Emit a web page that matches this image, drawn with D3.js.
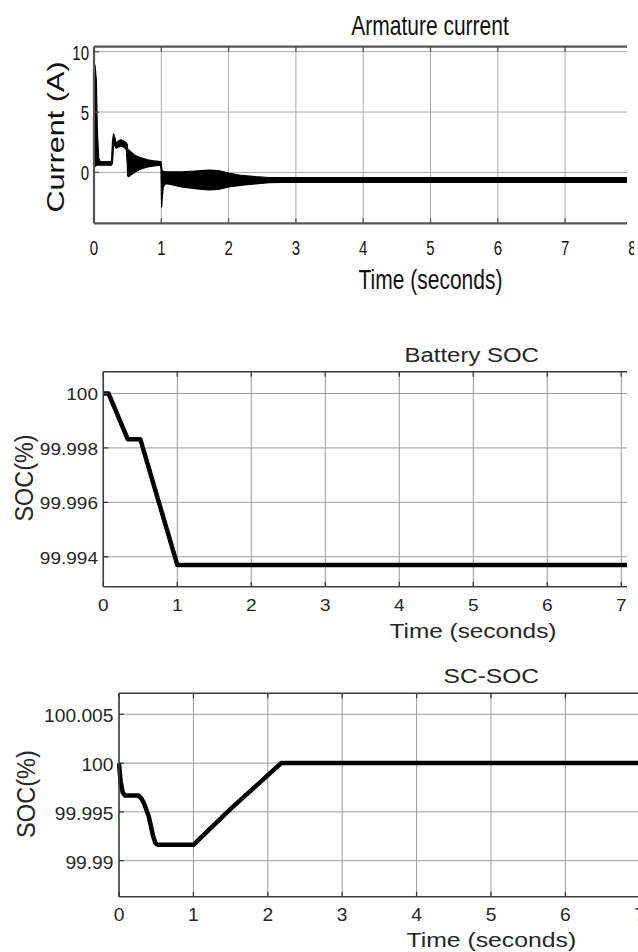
<!DOCTYPE html>
<html><head><meta charset="utf-8">
<script src="https://cdn.jsdelivr.net/npm/d3@7"></script>
<style>body{margin:0;background:#fff}svg{display:block}text{font-family:"Liberation Sans",Arial,sans-serif}</style>
</head><body>
<svg id="c" width="638" height="952"></svg>
<script>
// ---------------- data ----------------
const timeTicks = [0, 1, 2, 3, 4, 5, 6, 7, 8];

// Armature current: envelope of the oscillating signal (A)
const armTime  = [0, 0.004, 0.015, 0.035, 0.05, 0.07, 0.09, 0.18, 0.26, 0.275, 0.29, 0.31, 0.33, 0.36, 0.40, 0.44, 0.48, 0.495, 0.50, 0.52, 0.55, 0.60, 0.70, 0.80, 0.90, 0.985, 0.995, 1.005, 1.015, 1.03, 1.06, 1.1, 1.3, 1.5, 1.7, 1.85, 2.0, 2.2, 2.4, 2.6, 2.8, 3.2, 8];
const armUpper = [6.0, 8.9, 8.9, 7.6, 3.5, 1.2, 0.9, 0.9, 0.9, 2.6, 3.2, 2.9, 2.4, 2.6, 2.7, 2.6, 2.45, 2.3, 1.9, 1.85, 1.7, 1.45, 1.2, 1.05, 0.95, 0.9, 0.9, 0.4, 0.1, 0.1, 0.05, 0.05, 0.05, 0.12, 0.2, 0.15, -0.05, -0.25, -0.35, -0.42, -0.42, -0.42, -0.42];
const armLower = [0.3, 0.4, 0.5, 0.6, 0.6, 0.6, 0.6, 0.6, 0.6, 0.8, 2.3, 2.2, 2.0, 2.1, 2.2, 2.1, 1.9, 0.6, -0.3, -0.35, -0.2, 0.0, 0.3, 0.45, 0.55, 0.6, 0.3, -2.85, -2.0, -1.2, -0.95, -0.95, -1.2, -1.35, -1.45, -1.4, -1.2, -1.05, -0.95, -0.85, -0.82, -0.82, -0.82];
const armYTicks = [0, 5, 10];

// Battery SOC (%)
const batTime = [0, 0.07, 0.33, 0.50, 1.0, 8];
const batSOC  = [100, 100, 99.99832, 99.99832, 99.9937, 99.9937];
const batYTicks = [99.994, 99.996, 99.998, 100];
const batYTickLabels = ["99.994", "99.996", "99.998", "100"];

// Supercapacitor SOC (%)
const scTime = [0, 0.02, 0.05, 0.08, 0.26, 0.30, 0.34, 0.40, 0.46, 0.49, 0.52, 1.0, 1.5, 2.18, 8];
const scSOC  = [100, 99.9982, 99.9970, 99.99668, 99.99668, 99.99640, 99.99580, 99.99453, 99.99248, 99.99180, 99.99163, 99.99163, 99.99530, 100, 100];
const scYTicks = [99.99, 99.995, 100, 100.005];
const scYTickLabels = ["99.99", "99.995", "100", "100.005"];

// ---------------- drawing ----------------
const svg = d3.select("#c");
const defs = svg.append("defs");

function addText(g, x, y, str, o) {
  const sx = o.sx || 1, sy = o.sy || 1;
  let tr = `translate(${x},${y}) scale(${sx},${sy})`;
  if (o.rot) tr += ` rotate(${o.rot})`;
  return g.append("text").attr("transform", tr)
    .attr("text-anchor", o.anchor || "middle")
    .attr("font-size", o.size)
    .attr("fill", o.fill || "#222")
    .text(str);
}

function panel(cfg) {
  const id = cfg.id;
  defs.append("clipPath").attr("id", id + "clip").append("rect")
    .attr("x", cfg.left - 2).attr("y", cfg.top - 3)
    .attr("width", cfg.clipRight - cfg.left + 2).attr("height", cfg.bottom - cfg.top + 6);
  defs.append("clipPath").attr("id", id + "lclip").append("rect")
    .attr("x", 0).attr("y", 0).attr("width", cfg.labelClip).attr("height", 952);

  const x = d3.scaleLinear().domain([0, 8]).range([cfg.left, cfg.left + 8 * cfg.pxPerSec]);
  const y = d3.scaleLinear().domain(cfg.yDomain).range([cfg.bottom, cfg.top]);

  const g = svg.append("g").attr("clip-path", `url(#${id}clip)`);
  // grid
  g.selectAll(".vg").data(timeTicks).join("line")
    .attr("x1", d => x(d)).attr("x2", d => x(d)).attr("y1", cfg.top).attr("y2", cfg.bottom)
    .attr("stroke", cfg.gridColor).attr("stroke-width", 1);
  g.selectAll(".hg").data(cfg.yTicks).join("line")
    .attr("x1", cfg.left).attr("x2", 700).attr("y1", d => y(d)).attr("y2", d => y(d))
    .attr("stroke", cfg.gridColor).attr("stroke-width", 1);

  // data
  cfg.drawData(g, x, y);

  // axes border
  const bc = cfg.borderColor, bw = cfg.borderWidth;
  g.append("line").attr("x1", cfg.left).attr("x2", 700).attr("y1", cfg.top).attr("y2", cfg.top).attr("stroke", bc).attr("stroke-width", bw);
  g.append("line").attr("x1", cfg.left).attr("x2", 700).attr("y1", cfg.bottom).attr("y2", cfg.bottom).attr("stroke", bc).attr("stroke-width", bw);
  g.append("line").attr("x1", cfg.left).attr("x2", cfg.left).attr("y1", cfg.top).attr("y2", cfg.bottom).attr("stroke", bc).attr("stroke-width", bw);
  // tick marks (inward)
  timeTicks.forEach(t => {
    g.append("line").attr("x1", x(t)).attr("x2", x(t)).attr("y1", cfg.bottom).attr("y2", cfg.bottom - 5).attr("stroke", bc).attr("stroke-width", 1.3);
    g.append("line").attr("x1", x(t)).attr("x2", x(t)).attr("y1", cfg.top).attr("y2", cfg.top + 5).attr("stroke", bc).attr("stroke-width", 1.3);
  });
  cfg.yTicks.forEach(v => {
    g.append("line").attr("x1", cfg.left).attr("x2", cfg.left + 5).attr("y1", y(v)).attr("y2", y(v)).attr("stroke", bc).attr("stroke-width", 1.3);
  });

  // labels
  const lg = svg.append("g").attr("clip-path", `url(#${id}lclip)`);
  const tf = cfg.tickFont;
  timeTicks.filter(t => x(t) < 645).forEach(t =>
    addText(lg, x(t), cfg.xTickBase, String(t), {size: tf.size, sx: tf.sx, sy: tf.sy, fill: cfg.textColor}));
  cfg.yTicks.forEach((v, i) => addText(lg, cfg.yLabRight, y(v) + cfg.yLabDy, cfg.yTickLabels[i], {size: tf.size, sx: tf.sx, sy: tf.sy, anchor: "end", fill: cfg.textColor}));
  const t1 = cfg.title;
  addText(lg, t1.x, t1.y, t1.text, {size: t1.size, sx: t1.sx, sy: t1.sy, fill: cfg.textColor});
  const xl = cfg.xlabel;
  addText(lg, xl.x, xl.y, "Time (seconds)", {size: xl.size, sx: xl.sx, sy: xl.sy, fill: cfg.textColor});
  const yl = cfg.ylabel;
  addText(lg, yl.x, yl.y, yl.text, {size: yl.size, sx: yl.sx, sy: yl.sy, rot: -90, fill: cfg.textColor});
}

// ---- Panel 1: Armature current ----
const armData = armTime.map((t, i) => ({t, hi: armUpper[i], lo: armLower[i]}));
panel({
  id: "p1", left: 94, top: 46.7, bottom: 223.3, clipRight: 627, labelClip: 634, pxPerSec: 67.3,
  yDomain: [-4.21, 10.41], yTicks: armYTicks, yTickLabels: armYTicks.map(String),
  gridColor: "#aaaaaa", borderColor: "#555", borderWidth: 2.2, textColor: "#111",
  tickFont: {size: 15, sx: 1, sy: 1.32},
  xTickBase: 255, yLabRight: 89, yLabDy: 8,
  title: {text: "Armature current", x: 430, y: 34.5, size: 21, sx: 1, sy: 1.35},
  xlabel: {x: 430.5, y: 288.5, size: 21, sx: 1, sy: 1.35},
  ylabel: {text: "Current (A)", x: 64, y: 137, size: 23, sx: 1, sy: 1.33},
  drawData: (g, x, y) => {
    g.append("path").datum(armData)
      .attr("d", d3.area().x(d => x(d.t)).y0(d => y(d.lo)).y1(d => y(d.hi)))
      .attr("fill", "#000").attr("stroke", "#000").attr("stroke-width", 1.2).attr("stroke-linejoin", "round");
  }
});

// ---- Panel 2: Battery SOC ----
const batData = batTime.map((t, i) => ({t, v: batSOC[i]}));
panel({
  id: "p2", left: 103.3, top: 371.7, bottom: 586.7, clipRight: 627, labelClip: 638, pxPerSec: 74,
  yDomain: [99.9929, 100.0008], yTicks: batYTicks, yTickLabels: batYTickLabels,
  gridColor: "#9a9a9a", borderColor: "#3a3a3a", borderWidth: 1.5, textColor: "#262626",
  tickFont: {size: 17, sx: 1.12, sy: 1},
  xTickBase: 611, yLabRight: 98, yLabDy: 7,
  title: {text: "Battery SOC", x: 471.7, y: 361.5, size: 21, sx: 1.14, sy: 1},
  xlabel: {x: 473, y: 638, size: 21, sx: 1.16, sy: 1},
  ylabel: {text: "SOC(%)", x: 33, y: 478, size: 23.4, sx: 1.12, sy: 1},
  drawData: (g, x, y) => {
    g.append("path").datum(batData)
      .attr("d", d3.line().x(d => x(d.t)).y(d => y(d.v)))
      .attr("fill", "none").attr("stroke", "#000").attr("stroke-width", 4.5).attr("stroke-linejoin", "round");
  }
});

// ---- Panel 3: SC-SOC ----
const scData = scTime.map((t, i) => ({t, v: scSOC[i]}));
panel({
  id: "p3", left: 119, top: 693.3, bottom: 896.7, clipRight: 640, labelClip: 640, pxPerSec: 74.4,
  yDomain: [99.98631, 100.00715], yTicks: scYTicks, yTickLabels: scYTickLabels,
  gridColor: "#9a9a9a", borderColor: "#3a3a3a", borderWidth: 1.5, textColor: "#262626",
  tickFont: {size: 17.5, sx: 1.1, sy: 1},
  xTickBase: 920.5, yLabRight: 113.5, yLabDy: 8,
  title: {text: "SC-SOC", x: 491.3, y: 683.3, size: 21, sx: 1.17, sy: 1},
  xlabel: {x: 491.3, y: 946.5, size: 21, sx: 1.18, sy: 1},
  ylabel: {text: "SOC(%)", x: 35, y: 794, size: 23.6, sx: 1.12, sy: 1},
  drawData: (g, x, y) => {
    g.append("path").datum(scData)
      .attr("d", d3.line().x(d => x(d.t)).y(d => y(d.v)))
      .attr("fill", "none").attr("stroke", "#000").attr("stroke-width", 4.5).attr("stroke-linejoin", "round");
  }
});
</script>
</body></html>
